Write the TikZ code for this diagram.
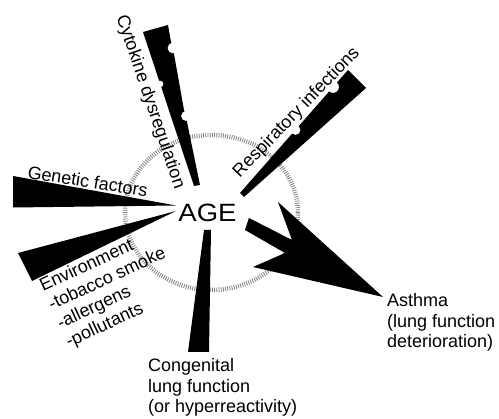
\documentclass[tikz,border=0pt]{standalone}
\usepackage{fontspec}
\usepackage{graphicx}
\setmainfont{Liberation Sans}
\begin{document}
\begin{tikzpicture}[x=1pt,y=-1pt,
  lbl/.style={font=\fontsize{18}{20.5}\selectfont, inner sep=0pt},
  ring/.style={draw=black!50, line width=4.5pt, dash pattern=on 0.8pt off 1.4pt}]
\useasboundingbox (0,0) rectangle (499,419);
% dotted ring
\draw[ring] (211.5,212.5) ellipse [x radius=86.5, y radius=77.5];
% genetic wedge
\fill (13,176) -- (176,205.5) -- (13,207.5) -- cycle;
% environment wedge
\fill (18,253) -- (176,211) -- (32,281) -- cycle;
% congenital wedge
\fill (204,230) -- (211,230) -- (209,352) -- (188,352) -- cycle;
% asthma arrow
\fill (249,218) -- (292,240) -- (278,202) -- (383,297) -- (253,267) -- (285,253) -- (245,230) -- cycle;
% cytokine spike with bites
\begin{scope}
\clip (143,32) -- (168,25) -- (171,42) -- (174,54) -- (184,110) -- (187,122) -- (200,185) -- (194,186) -- cycle;
\fill[even odd rule] (0,0) rectangle (499,419) (173,48) circle[radius=5.5] (186,116) circle[radius=5] (160,84) circle[radius=3.5];
\end{scope}
% respiratory spike with bites
\begin{scope}
\clip (240,193) -- (348,70) -- (366,88) -- (244,197) -- cycle;
\fill[even odd rule] (0,0) rectangle (499,419) (333,87) circle[radius=6] (295.5,130) circle[radius=5];
\end{scope}
% labels
\node[lbl, font=\fontsize{25}{30}\selectfont] (age) at (207.5,213) {\scalebox{1.1}[1]{AGE}};
\node[lbl, rotate=-71.3] (cyto) at (150,102) {Cytokine dysregulation};
\node[lbl, rotate=46, anchor=base] (resp) at (300,116) {Respiratory infections};
\node[lbl, rotate=-9, anchor=base] (gen) at (86.8,187.5) {Genetic factors};
\node[lbl, rotate=25, anchor=base west] (env) at (43,292) {\begin{tabular}[t]{@{}l@{}}Environment\\-tobacco smoke\\-allergens\\-pollutants\end{tabular}};
\node[lbl, anchor=base west] (cong) at (148,372) {\begin{tabular}[t]{@{}l@{}}Congenital\\lung function\\(or hyperreactivity)\end{tabular}};
\node[lbl, anchor=base west] (asth) at (387,307) {\begin{tabular}[t]{@{}l@{}}Asthma\\(lung function\\deterioration)\end{tabular}};
\end{tikzpicture}
\end{document}
